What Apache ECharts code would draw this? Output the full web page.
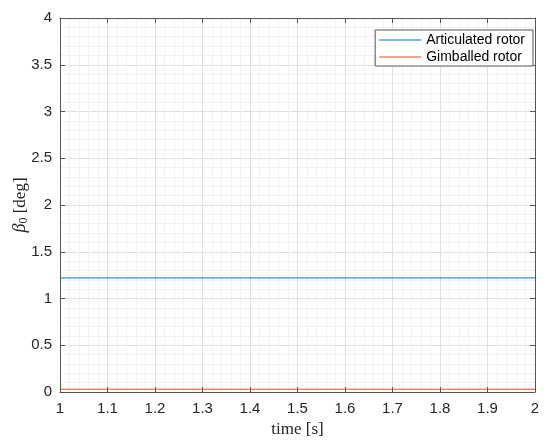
<!DOCTYPE html>
<html><head><meta charset="utf-8">
<script src="https://cdn.jsdelivr.net/npm/echarts@6/dist/echarts.min.js"></script>
<style>html,body{margin:0;padding:0;background:#fff}#c{width:550px;height:445px}</style>
</head><body><div id="c"></div>
<script>
const seriesNames = ['Articulated rotor', 'Gimballed rotor'];
const timeValues = [1, 1.1, 1.2, 1.3, 1.4, 1.5, 1.6, 1.7, 1.8, 1.9, 2];
const articulated = [1.22, 1.22, 1.22, 1.22, 1.22, 1.22, 1.22, 1.22, 1.22, 1.22, 1.22];
const gimballed = [0.03, 0.03, 0.03, 0.03, 0.03, 0.03, 0.03, 0.03, 0.03, 0.03, 0.03];
const xTickLabels = ['1','1.1','1.2','1.3','1.4','1.5','1.6','1.7','1.8','1.9','2'];
const yTickLabels = ['0','0.5','1','1.5','2','2.5','3','3.5','4'];

const axisColor = '#555555';
const textColor = '#262626';
const chart = echarts.init(document.getElementById('c'));
const pair = (xs, ys) => xs.map((x, i) => [x, ys[i]]);
const baseAxis = {
  axisLine: {show: true, onZero: false, lineStyle: {color: axisColor, width: 1}},
  axisTick: {show: true, inside: true, length: 5, lineStyle: {color: axisColor}},
  minorTick: {show: false, splitNumber: 5},
  splitLine: {show: true, lineStyle: {color: '#e0e0e0', width: 1}},
  minorSplitLine: {show: true, lineStyle: {color: '#f1f1f1', width: 1}}
};
chart.setOption({
  animation: false,
  grid: {left: 60, right: 15, top: 18, bottom: 53, containLabel: false, outerBoundsMode: 'none'},
  legend: {
    right: 17, top: 30, orient: 'vertical', itemWidth: 42, itemHeight: 1.2, itemGap: 3,
    padding: [3, 8, 2, 4], borderColor: axisColor, borderWidth: 1, backgroundColor: '#fff',
    textStyle: {fontFamily: 'Liberation Sans', fontSize: 14, color: '#000'},
    data: seriesNames.map(n => ({name: n, icon: 'rect'}))
  },
  xAxis: [
    Object.assign({}, baseAxis, {
      type: 'value', min: 1, max: 2, interval: 0.1, position: 'bottom',
      axisLabel: {color: textColor, fontFamily: 'Liberation Sans', fontSize: 15, margin: 9,
        formatter: v => xTickLabels[Math.round((v - 1) * 10)] ?? ''},
      name: 'time [s]', nameLocation: 'middle', nameGap: 29, nameMoveOverlap: false,
      nameTextStyle: {fontFamily: 'Liberation Serif', fontSize: 17, color: textColor}
    }),
    Object.assign({}, baseAxis, {
      type: 'value', min: 1, max: 2, interval: 0.1, position: 'top',
      splitLine: {show: false}, minorSplitLine: {show: false}, axisLabel: {show: false}
    })
  ],
  yAxis: [
    Object.assign({}, baseAxis, {
      type: 'value', min: 0, max: 4, interval: 0.5, position: 'left',
      axisLabel: {color: textColor, fontFamily: 'Liberation Sans', fontSize: 15, margin: 8,
        formatter: v => yTickLabels[Math.round(v * 2)] ?? ''},
      name: '{b|β}{s|0}{n| [deg]}', nameLocation: 'middle', nameGap: 30, nameMoveOverlap: false,
      nameTextStyle: {
        color: textColor,
        rich: {
          b: {fontFamily: 'Liberation Serif', fontStyle: 'italic', fontSize: 18, color: textColor},
          s: {fontFamily: 'Liberation Serif', fontSize: 12, color: textColor, verticalAlign: 'bottom', padding: [7, 0, 0, 0]},
          n: {fontFamily: 'Liberation Serif', fontSize: 17, color: textColor}
        }
      }
    }),
    Object.assign({}, baseAxis, {
      type: 'value', min: 0, max: 4, interval: 0.5, position: 'right',
      splitLine: {show: false}, minorSplitLine: {show: false}, axisLabel: {show: false}
    })
  ],
  series: [
    {name: seriesNames[0], type: 'line', data: pair(timeValues, articulated), showSymbol: false,
      lineStyle: {color: '#0072BD', width: 1}, itemStyle: {color: '#0072BD'}},
    {name: seriesNames[1], type: 'line', data: pair(timeValues, gimballed), showSymbol: false,
      lineStyle: {color: '#D95319', width: 1}, itemStyle: {color: '#D95319'}}
  ]
});
</script></body></html>
